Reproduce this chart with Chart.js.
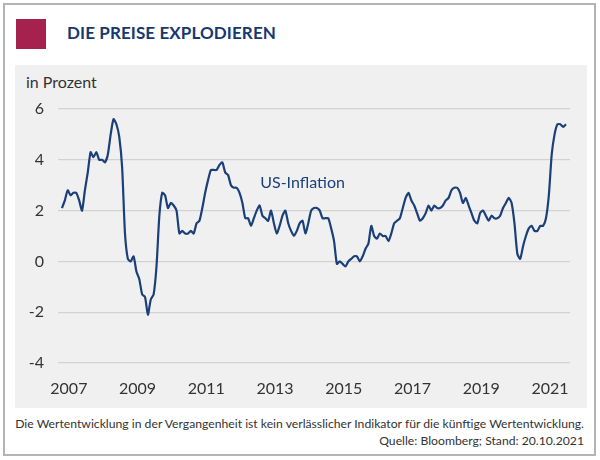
<!DOCTYPE html>
<html>
<head>
<meta charset="utf-8">
<script src="https://cdn.jsdelivr.net/npm/chart.js@4"></script>
<style>
  body { margin: 0; background: #fff; font-family: 'Lato', 'Open Sans', sans-serif; }
  #frame { position: absolute; left: 3px; top: 3px; width: 589px; height: 449px; border: 2px solid #b4b4b4; }
  #square { position: absolute; left: 16px; top: 19px; width: 30px; height: 30px; background: #a5214e; }
  #title { position: absolute; left: 67px; top: 22px; font-size: 17px; font-weight: bold; color: #17386e; letter-spacing: 0.1px; }
  #panel { position: absolute; left: 15px; top: 65px; width: 572px; height: 343px; background: #f0f0f0; }
  #unit { position: absolute; left: 26px; top: 72px; font-size: 16px; color: #333; }
  #wrap { position: absolute; left: 15px; top: 65px; width: 572px; height: 343px; }
  .note { position: absolute; right: 16px; font-size: 12.2px; color: #333; white-space: nowrap; }
</style>
</head>
<body>
<div id="frame"></div>
<div id="square"></div>
<div id="title">DIE PREISE EXPLODIEREN</div>
<div id="panel"></div>
<div id="unit">in Prozent</div>
<div id="wrap"><canvas id="chart"></canvas></div>
<div class="note" style="top:416px">Die Wertentwicklung in der Vergangenheit ist kein verlässlicher Indikator für die künftige Wertentwicklung.</div>
<div class="note" style="top:433px">Quelle: Bloomberg; Stand: 20.10.2021</div>

<script>
/* ── Data: US CPI YoY in %, monthly from Jan 2007 ── */
const startYear = 2007;
const inflation = [
  2.1, 2.4, 2.8, 2.6, 2.7, 2.7, 2.4, 2.0, 2.8, 3.5, 4.3, 4.1,
  4.3, 4.0, 4.0, 3.9, 4.2, 5.0, 5.6, 5.4, 4.9, 3.7, 1.1, 0.1,
  0.0, 0.2, -0.4, -0.7, -1.3, -1.4, -2.1, -1.5, -1.3, -0.2, 1.8, 2.7,
  2.6, 2.1, 2.3, 2.2, 2.0, 1.1, 1.2, 1.1, 1.1, 1.2, 1.1, 1.5,
  1.6, 2.1, 2.7, 3.2, 3.6, 3.6, 3.6, 3.8, 3.9, 3.5, 3.4, 3.0,
  2.9, 2.9, 2.7, 2.3, 1.7, 1.7, 1.4, 1.7, 2.0, 2.2, 1.8, 1.7,
  1.6, 2.0, 1.5, 1.1, 1.4, 1.8, 2.0, 1.5, 1.2, 1.0, 1.2, 1.5,
  1.6, 1.1, 1.5, 2.0, 2.1, 2.1, 2.0, 1.7, 1.7, 1.7, 1.3, 0.8,
  -0.1, 0.0, -0.1, -0.2, 0.0, 0.1, 0.2, 0.2, 0.0, 0.2, 0.5, 0.7,
  1.4, 1.0, 0.9, 1.1, 1.0, 1.0, 0.8, 1.1, 1.5, 1.6, 1.7, 2.1,
  2.5, 2.7, 2.4, 2.2, 1.9, 1.6, 1.7, 1.9, 2.2, 2.0, 2.2, 2.1,
  2.1, 2.2, 2.4, 2.5, 2.8, 2.9, 2.9, 2.7, 2.3, 2.5, 2.2, 1.9,
  1.6, 1.5, 1.9, 2.0, 1.8, 1.6, 1.8, 1.7, 1.7, 1.8, 2.1, 2.3,
  2.5, 2.3, 1.5, 0.3, 0.1, 0.6, 1.0, 1.3, 1.4, 1.2, 1.2, 1.4,
  1.4, 1.7, 2.6, 4.2, 5.0, 5.4, 5.4, 5.3, 5.4
];
const yearTicks = [2007, 2009, 2011, 2013, 2015, 2017, 2019, 2021];
const yTicks = [-4, -2, 0, 2, 4, 6];
const seriesLabel = 'US-Inflation';

const points = inflation.map((v, i) => ({ x: startYear + i / 12, y: v }));
const lastX = startYear + (inflation.length - 1) / 12;
const labelShift = 0.2; // year labels sit a bit right of January

const navy = '#1b3f78';
const tickFont = { family: 'Lato', size: 16 };

// series name written inside the plot
const seriesTag = {
  id: 'seriesTag',
  afterDatasetsDraw(chart) {
    const { ctx, scales: { x, y } } = chart;
    ctx.save();
    ctx.font = '16px Lato';
    ctx.fillStyle = navy;
    ctx.textAlign = 'center';
    ctx.textBaseline = 'middle';
    ctx.fillText(seriesLabel, x.getPixelForValue(2014), y.getPixelForValue(3.08));
    ctx.restore();
  }
};

new Chart(document.getElementById('chart'), {
  type: 'line',
  data: {
    datasets: [{
      label: seriesLabel,
      data: points,
      borderColor: navy,
      borderWidth: 2.2,
      pointRadius: 0,
      tension: 0.2,
      fill: false
    }]
  },
  options: {
    responsive: true, maintainAspectRatio: false,
    animation: false,
    layout: { padding: { top: 44, right: 17, left: 0, bottom: 0 } },
    plugins: { legend: { display: false }, tooltip: { enabled: false } },
    scales: {
      x: {
        type: 'linear',
        min: startYear - 0.116,
        max: lastX + 0.116,
        grid: { display: false, drawTicks: false },
        border: { display: false },
        afterBuildTicks: s => { s.ticks = yearTicks.map(yr => ({ value: yr + labelShift })); },
        afterFit: s => { s.height = 45; },
        ticks: {
          color: '#333', font: tickFont, padding: 16, maxRotation: 0,
          callback: v => String(Math.round(v - labelShift))
        }
      },
      y: {
        min: -4, max: 6,
        grid: { color: '#d2d2d2', lineWidth: 1.2, drawTicks: false },
        border: { display: false },
        afterBuildTicks: s => { s.ticks = yTicks.map(v => ({ value: v })); },
        afterFit: s => { s.width = 43; },
        ticks: { color: '#333', font: tickFont, padding: 14 }
      }
    }
  },
  plugins: [seriesTag]
});
</script>
</body>
</html>
